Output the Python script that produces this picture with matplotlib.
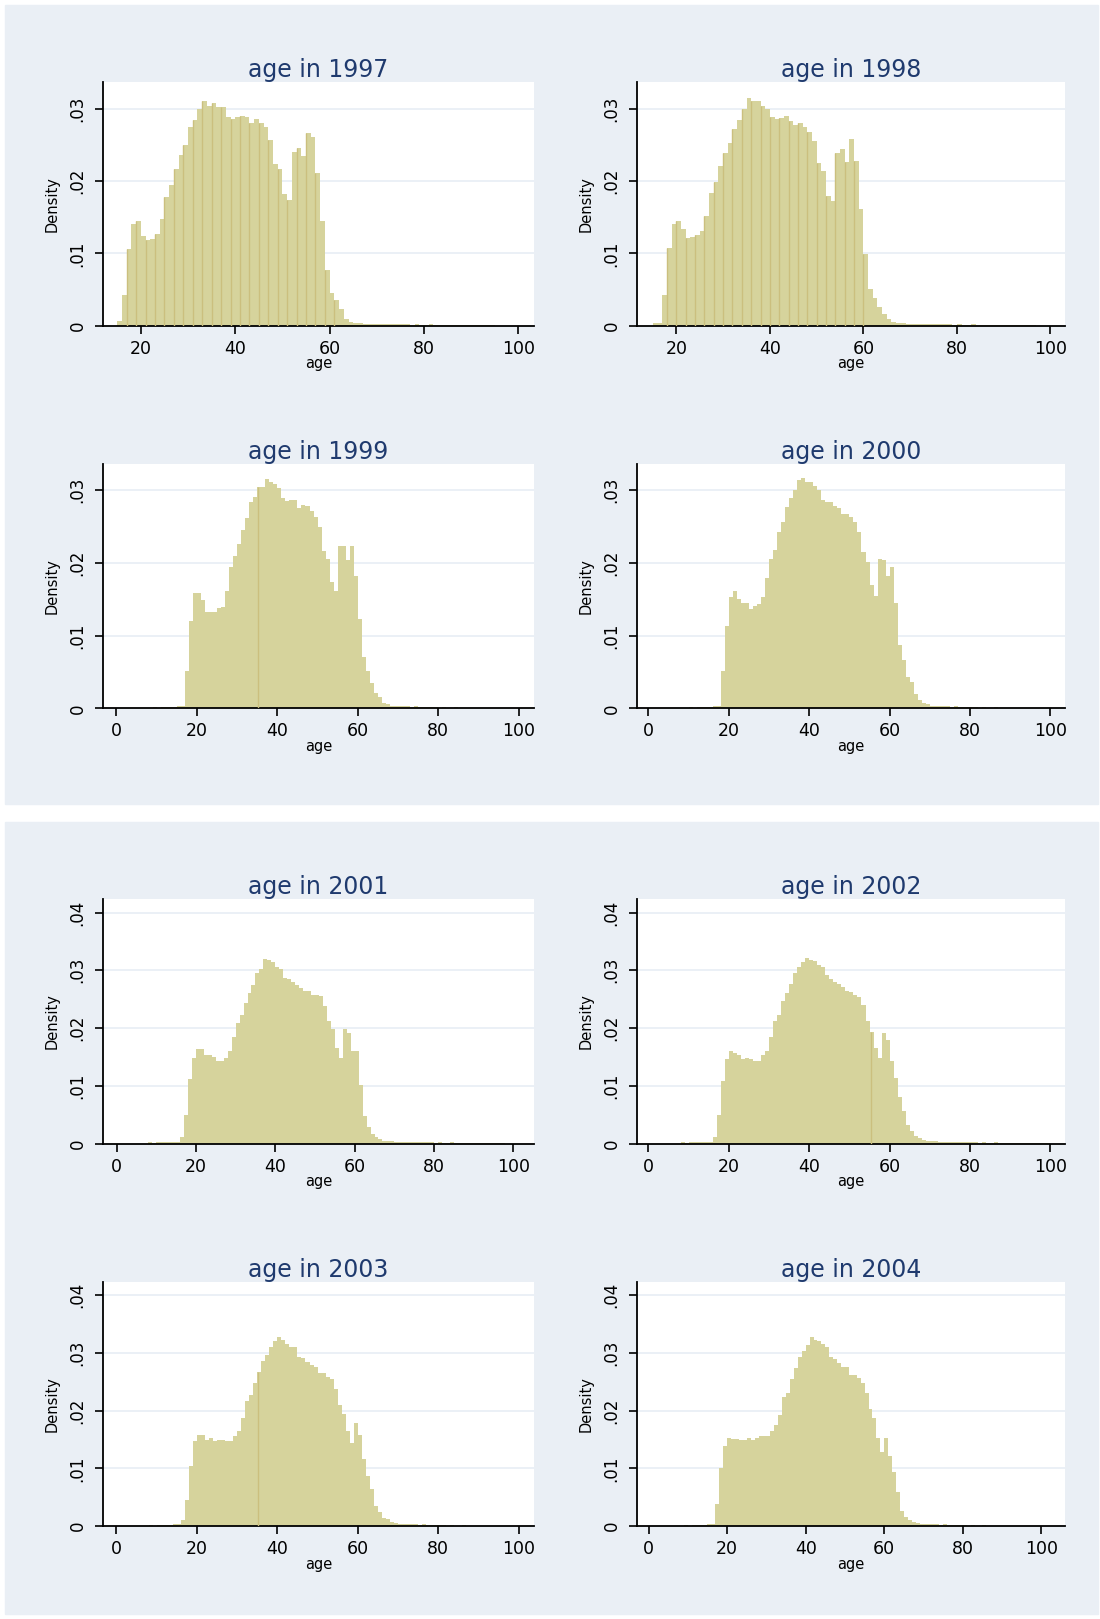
import numpy as np
import matplotlib.pyplot as plt
from matplotlib.patches import Rectangle

# histogram densities, one bar per year of age starting at *_start
start_1997 = 15
dens_1997 = [.0007, .0043, .0106, .014, .0145, .0124, .0118, .012, .0127, .0148,
             .0178, .0195, .0217, .0236, .025, .0275, .0284, .0299, .031, .0304,
             .0308, .0302, .0302, .0289, .0286, .0289, .029, .0288, .028, .0285,
             .028, .0275, .0256, .0224, .0217, .0182, .0174, .024, .0246, .0234,
             .0266, .0261, .0211, .0145, .0077, .0045, .0036, .0023, .001, .0005]
start_1998 = 15
dens_1998 = [.0004, .0004, .0043, .0107, .0141, .0145, .0134, .0121, .0122, .0125,
             .0131, .0151, .0184, .0198, .0221, .0238, .0253, .0272, .0284, .0299,
             .0314, .031, .031, .0303, .03, .0289, .0285, .0287, .029, .0283,
             .0278, .028, .0274, .0268, .0255, .0225, .0214, .0179, .0173, .0239,
             .0244, .0226, .0258, .0227, .0162, .0099, .0051, .0039, .0026, .0016,
             .001, .0006]
start_1999 = 17
dens_1999 = [.0051, .012, .0159, .0159, .0149, .0133, .0132, .0132, .0138, .014,
             .0162, .0195, .0209, .0226, .0245, .0262, .0284, .0291, .0305, .0305,
             .0315, .0311, .0308, .0303, .029, .0285, .0287, .0287, .0276, .028,
             .0278, .0272, .0263, .025, .0217, .0206, .0174, .0162, .0224, .0224,
             .0204, .0224, .0182, .0123, .0071, .0051, .0035, .0021, .0016, .0007,
             .0006]
start_2000 = 18
dens_2000 = [.0051, .0114, .0153, .0162, .0151, .0145, .0145, .0137, .0141, .0143,
             .0153, .0179, .0206, .0218, .0242, .0256, .0277, .029, .03, .0314,
             .0317, .0312, .0311, .0306, .0301, .0287, .0284, .0284, .0278, .0276,
             .0268, .0268, .0263, .0256, .0242, .0215, .0201, .017, .0154, .0206,
             .0204, .0182, .0195, .0145, .0087, .0066, .0043, .0036, .002, .0012,
             .0008, .0006]
start_2001 = 16
dens_2001 = [.0012, .0049, .0112, .0149, .0164, .0164, .0153, .0153, .015, .0143,
             .0143, .0149, .016, .0184, .0208, .0222, .0243, .026, .0274, .0295,
             .0302, .0319, .0318, .0314, .0306, .0303, .0287, .0285, .028, .0275,
             .027, .0265, .0265, .0257, .0257, .0256, .0238, .0212, .0198, .0166,
             .0149, .0198, .0192, .016, .016, .0101, .0048, .0029, .0016, .0012,
             .0008, .0005]
start_2002 = 16
dens_2002 = [.0012, .0049, .0108, .0146, .016, .0157, .0153, .0146, .0149, .0146,
             .0143, .0143, .0153, .016, .0184, .0212, .0222, .0247, .026, .0277,
             .0295, .0305, .0314, .0322, .0318, .0316, .031, .0305, .0292, .0285,
             .028, .0276, .0271, .0265, .0263, .0257, .0253, .024, .0212, .0194,
             .0166, .0149, .0191, .0179, .0143, .0113, .0081, .0057, .0033, .0022,
             .0014, .001, .0007, .0005]
start_2003 = 16
dens_2003 = [.001, .0046, .0105, .0147, .0157, .0157, .015, .0152, .0147, .015,
             .015, .0147, .0147, .0156, .0164, .0187, .0216, .0227, .0247, .0267,
             .0286, .0296, .031, .032, .0327, .0323, .0316, .031, .031, .0293,
             .0291, .0284, .0279, .0276, .0266, .0266, .0258, .0255, .0238, .021,
             .0195, .0164, .0144, .0178, .0157, .0116, .0087, .0065, .0035, .0024,
             .0015, .0012, .0008, .0006]
start_2004 = 17
dens_2004 = [.0039, .01, .0138, .0152, .0151, .0151, .0149, .0149, .0152, .0149,
             .0152, .0156, .0156, .0156, .0164, .0176, .0193, .0223, .0231, .0254,
             .0273, .0292, .0303, .0314, .0327, .0322, .0321, .0315, .0311, .0293,
             .0289, .0283, .0276, .0276, .0262, .0262, .0257, .0248, .023, .0202,
             .0187, .0153, .0129, .0152, .0122, .0094, .0059, .0027, .0016, .001,
             .0007, .0005]

# small tails either side of the main body
low_tail = [.0002, .0001, .0002, .0002, .0002, .0002, .0003, .0003]  # 8 years below start
high_tail = [.0004, .0004, .0003, .0003, .0003, .0002, .0003, .0002, .0002, .0002,
             .0002, .0002, .0001, .0002, .0001, .0001, .0002, .0001, .0001, .0001,
             .0001, .0001, .0001, .0001, .0001, .0001, .0001, .0001, .0001, .0001]

years = [1997, 1998, 1999, 2000, 2001, 2002, 2003, 2004]
starts = [start_1997, start_1998, start_1999, start_2000, start_2001, start_2002,
          start_2003, start_2004]
dens = [dens_1997, dens_1998, dens_1999, dens_2000, dens_2001, dens_2002,
        dens_2003, dens_2004]
xlims = [(12, 103.3), (11.6, 103.1), (-3.3, 103.8), (-2.8, 103.6),
         (-3.4, 105.2), (-2.8, 103.6), (-3.3, 103.8), (-2.9, 106)]
seams = {1997: list(range(17, 63, 2)), 1998: list(range(18, 62, 2)),
         1999: [35.2], 2002: [55.4], 2003: [35.1]}

W, H = 1067.0, 1570.0
BAR = '#d6d39c'
SEAM = '#cbbf7e'
BG = '#eaeff5'

fig = plt.figure(figsize=(11, 16.19), dpi=100)
fig.patch.set_facecolor('white')
for y0, y1 in [(5, 780), (797, 1565)]:
    fig.patches.append(Rectangle((5 / W, 1 - y1 / H), 1060 / W, (y1 - y0) / H,
                                 transform=fig.transFigure, color=BG, zorder=-10))

cols = [(100, 518), (618, 1033)]
rows = [(80, 316), (450, 687), (872, 1109), (1243, 1480)]

for i, yr in enumerate(years):
    x0, x1 = cols[i % 2]
    y0, y1 = rows[i // 2]
    ax = fig.add_axes([x0 / W, 1 - y1 / H, (x1 - x0) / W, (y1 - y0) / H])
    body = dens[i]
    s = starts[i]
    ages = list(range(s, s + len(body)))
    vals = list(body)
    if yr >= 1999:
        ages = list(range(s - len(low_tail), s)) + ages
        vals = low_tail + vals
    ages = ages + list(range(ages[-1] + 1, ages[-1] + 1 + len(high_tail)))
    vals = vals + high_tail
    ax.bar(ages, vals, width=1.0, align='edge', color=BAR, linewidth=0, zorder=2)
    for sx in seams.get(yr, []):
        k = int(np.floor(sx)) - s
        if 0 <= k < len(body):
            ax.vlines(sx, 0, body[k], color=SEAM, lw=1.0, zorder=3)

    top = 0.0336 if yr <= 2000 else 0.0423
    yt = [0, .01, .02, .03] if yr <= 2000 else [0, .01, .02, .03, .04]
    ax.set_ylim(0, top)
    ax.set_xlim(*xlims[i])
    ax.set_yticks(yt)
    ax.set_yticklabels(['0'] + ['.%02d' % int(round(v * 100)) for v in yt[1:]],
                       rotation=90, va='center', fontsize=12)
    ax.set_xticks([20, 40, 60, 80, 100] if yr <= 1998 else [0, 20, 40, 60, 80, 100])
    ax.tick_params(axis='x', labelsize=12.5, length=6, width=1.2, pad=4)
    ax.tick_params(axis='y', length=6, width=1.2, pad=6)
    for t in yt[1:]:
        ax.axhline(t, color='#e8eef5', lw=1.2, zorder=1)
    for sp in ['top', 'right']:
        ax.spines[sp].set_visible(False)
    ax.spines['left'].set_linewidth(1.3)
    ax.spines['bottom'].set_linewidth(1.3)
    ax.set_facecolor('white')
    ax.set_title('age in %d' % yr, color='#1f3a6e', fontsize=17, pad=3)
    ax.set_xlabel('age', fontsize=10.5, labelpad=-1)
    ax.set_ylabel('Density', fontsize=10.5, labelpad=6)

fig.savefig('out.png', dpi=100, facecolor='white')
